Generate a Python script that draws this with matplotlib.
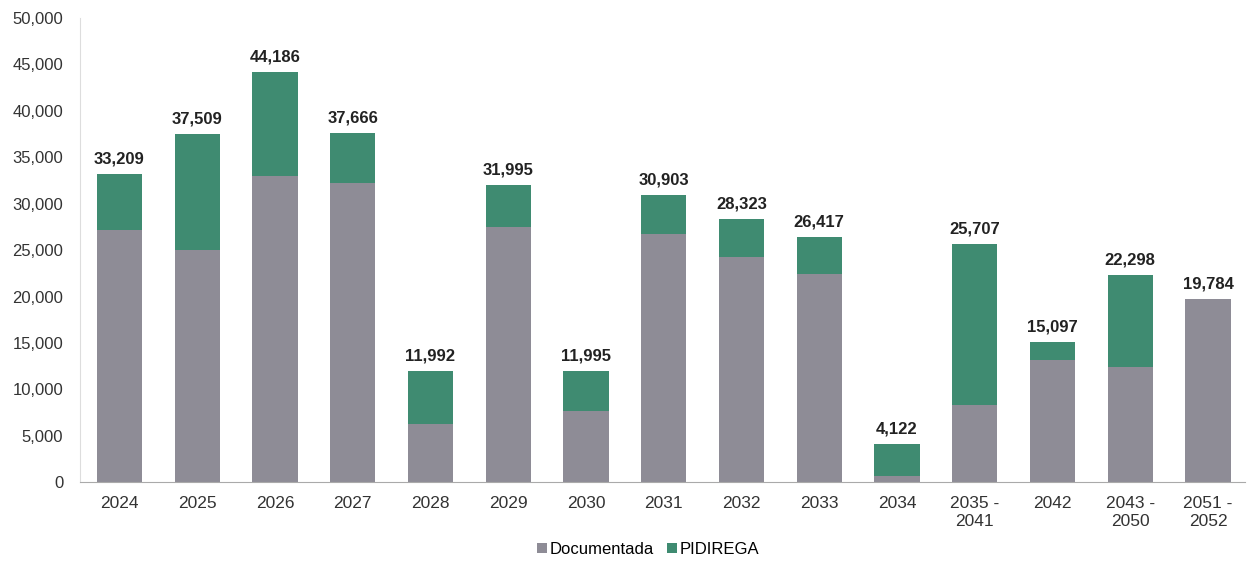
import numpy as np
import matplotlib.pyplot as plt

# Periods and amounts (documentada + pidirega stack up to the total shown on top)
periods = ['2024', '2025', '2026', '2027', '2028', '2029', '2030', '2031', '2032',
           '2033', '2034', '2035 -\n2041', '2042', '2043 -\n2050', '2051 -\n2052']
documentada = [27200, 25000, 33000, 32200, 6300, 27500, 7700, 26700, 24300,
               22400, 700, 8300, 13150, 12400, 19784]
pidirega = [6009, 12509, 11186, 5466, 5692, 4495, 4295, 4203, 4023,
            4017, 3422, 17407, 1947, 9898, 0]
totals = [33209, 37509, 44186, 37666, 11992, 31995, 11995, 30903, 28323,
          26417, 4122, 25707, 15097, 22298, 19784]

plt.rcParams['font.family'] = ['Liberation Sans', 'DejaVu Sans']

fig = plt.figure(figsize=(12.47, 5.64), dpi=100)
ax = fig.add_axes([0.064, 0.145, 0.934, 0.823])

x = np.arange(len(periods))
w = 0.58
ax.bar(x, documentada, w, color='#8e8c96', label='Documentada')
ax.bar(x, pidirega, w, bottom=documentada, color='#3f8b71', label='PIDIREGA')

for xi, d, p, t in zip(x, documentada, pidirega, totals):
    ax.text(xi, d + p + 800, f'{t:,}', ha='center', va='bottom',
            fontsize=12, fontweight='bold', color='#222222')

ax.set_ylim(0, 50000)
ax.set_xlim(-0.51, len(periods) - 0.53)
ax.set_yticks(range(0, 50001, 5000))
ax.set_yticklabels([f'{v:,}' for v in range(0, 50001, 5000)])
ax.set_xticks(x)
ax.set_xticklabels(periods)
ax.tick_params(axis='both', length=0, labelsize=12.5, colors='#333333')
ax.tick_params(axis='y', pad=12, labelsize=12)
ax.tick_params(axis='x', pad=10)

for side in ['top', 'right']:
    ax.spines[side].set_visible(False)
ax.spines['left'].set_color('#dddddd')
ax.spines['bottom'].set_color('#aaaaaa')

fig.legend(loc='lower center', bbox_to_anchor=(0.52, -0.014), ncol=2, frameon=False,
           fontsize=12, handlelength=0.55, handleheight=0.55, handletextpad=0.2,
           columnspacing=0.8)

fig.savefig('out.png', dpi=100)
